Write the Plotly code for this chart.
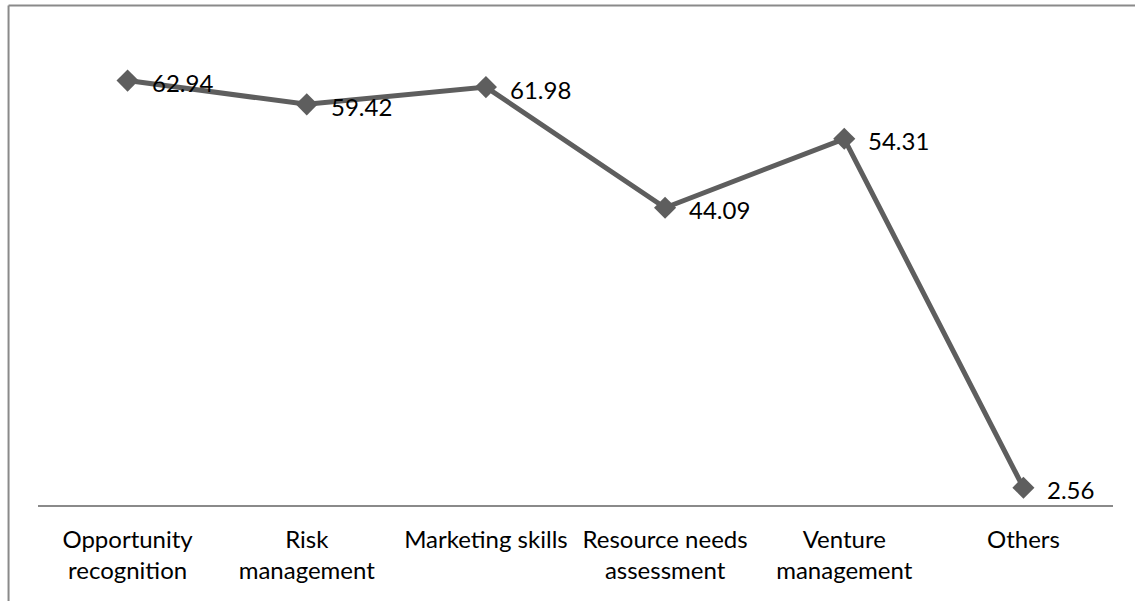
import plotly.graph_objects as go

categories = ["Opportunity<br>recognition", "Risk<br>management", "Marketing skills",
              "Resource needs<br>assessment", "Venture<br>management", "Others"]
values = [62.94, 59.42, 61.98, 44.09, 54.31, 2.56]
value_labels = ["62.94", "59.42", "61.98", "44.09", "54.31", "2.56"]

FONT = "Lato, 'Open Sans', sans-serif"
x_idx = list(range(len(categories)))

fig = go.Figure()
fig.add_trace(go.Scatter(
    x=x_idx, y=values, mode="lines+markers",
    line=dict(color="#5e5e5e", width=5),
    marker=dict(symbol="diamond", size=17, color="#5e5e5e"),
    hoverinfo="skip", showlegend=False,
))

for xi, v, lab in zip(x_idx, values, value_labels):
    fig.add_annotation(x=xi, y=v, text=lab, showarrow=False,
                       xanchor="left", yanchor="middle", xshift=22, yshift=-2,
                       font=dict(family=FONT, size=24, color="#000000"))

# outer chart frame (left and top edges)
fig.add_shape(type="line", xref="paper", yref="paper", x0=-0.0274, x1=-0.0274,
              y0=1.0583, y1=-0.25, line=dict(color="#8a8a8a", width=2))
fig.add_shape(type="line", xref="paper", yref="paper", x0=-0.0274, x1=1.05,
              y0=1.0583, y1=1.0583, line=dict(color="#8a8a8a", width=2))

fig.update_layout(
    width=1135, height=601,
    margin=dict(l=38, r=22, t=33, b=96),
    paper_bgcolor="white", plot_bgcolor="white",
    font=dict(family=FONT, size=24, color="#000000"),
    xaxis=dict(
        tickmode="array", tickvals=x_idx, ticktext=categories,
        range=[-0.5, len(categories) - 0.5],
        showline=True, linecolor="#8a8a8a", linewidth=2,
        showgrid=False, zeroline=False, ticks="",
        ticklabelstandoff=12,
        tickfont=dict(family=FONT, size=24, color="#000000"),
    ),
    yaxis=dict(range=[0, 70], visible=False, showgrid=False, zeroline=False),
)

fig.write_html("out.html")
